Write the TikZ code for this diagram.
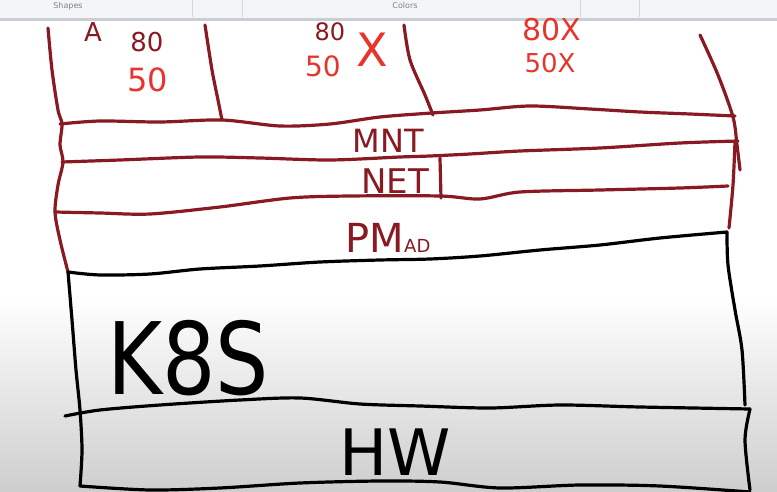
\documentclass[tikz,border=0pt]{standalone}
\usepackage{fontspec}
\setmainfont{DejaVu Sans}
\definecolor{ink}{HTML}{8A1A22}
\definecolor{redink}{HTML}{E8352C}
\definecolor{barbg}{HTML}{F4F5F7}
\definecolor{barline}{HTML}{C9CDD4}
\definecolor{bottomgray}{HTML}{CECECE}
\tikzset{
  redline/.style={draw=ink, line width=3.2pt, line cap=round, line join=round},
  blackline/.style={draw=black, line width=3.2pt, line cap=round, line join=round},
  lbl/.style={inner sep=0pt, anchor=center},
}
\begin{document}
\begin{tikzpicture}[x=1pt,y=-1pt]
\useasboundingbox (0,0) rectangle (777,492);
\clip (0,0) rectangle (777,492);
% background
\fill[white] (0,0) rectangle (777,492);
\shade[top color=white, bottom color=bottomgray] (0,295) rectangle (777,492);
% toolbar
\fill[barbg] (0,0) rectangle (777,19);
\draw[barline, line width=3pt] (0,20) -- (777,20);
\foreach \sx in {192,242,580,639} \draw[barline!80, line width=0.8pt] (\sx,0) -- (\sx,17);
\node[lbl, text=gray, font=\fontsize{8}{8}\selectfont] (shapes) at (68,6) {Shapes};
\node[lbl, text=gray, font=\fontsize{8}{8}\selectfont] (colors) at (405,6) {Colors};
% red structure
\draw[redline] plot[smooth] coordinates {(48,28) (52,70) (58,110) (62,124) (60,145) (63,162) (58,185) (55,212) (60,240) (68,272)};
\draw[redline] plot[smooth] coordinates {(205,25) (212,70) (218,100) (222,120)};
\draw[redline] plot[smooth] coordinates {(404,25) (410,60) (425,95) (433,115)};
\draw[redline] plot[smooth] coordinates {(700,35) (718,75) (733,117) (737,145) (740,170)};
\draw[redline] plot[smooth] coordinates {(735,142) (733,185) (729,228)};
\draw[redline] plot[smooth] coordinates {(60,124) (100,121) (160,122) (222,120) (280,126) (330,124) (380,117) (432,113) (480,110) (530,106) (590,109) (640,112) (690,114) (735,116)};
\draw[redline] plot[smooth] coordinates {(62,162) (120,160) (200,157) (260,158) (330,160) (400,157) (430,156) (470,154) (520,151) (600,148) (680,143) (738,141)};
\draw[redline] plot[smooth] coordinates {(55,212) (100,213) (150,214) (220,207) (290,198) (350,196) (440,196) (480,199) (520,192) (600,190) (680,188) (728,186)};
\draw[redline] (440,158) -- (441,198);
% black structure
\draw[blackline] plot[smooth] coordinates {(68,272) (100,275) (150,274) (200,269) (260,266) (320,262) (380,260) (430,259) (480,256) (540,250) (600,245) (660,238) (727,232)};
\draw[blackline] plot[smooth] coordinates {(727,232) (728,265) (735,310) (742,350) (745,405)};
\draw[blackline] plot[smooth] coordinates {(68,272) (72,320) (76,370) (80,410) (82,450) (80,486)};
\draw[blackline] plot[smooth] coordinates {(65,416) (100,410) (160,405) (240,400) (300,398) (360,404) (420,406) (490,408) (560,405) (640,407) (750,409)};
\draw[blackline] plot[smooth] coordinates {(750,409) (745,440) (750,490)};
\draw[blackline] plot[smooth] coordinates {(80,486) (150,490) (220,488) (300,483) (380,481) (440,482) (500,488) (580,485) (660,486) (750,492)};
% layer labels
\node[lbl, text=ink, font=\fontsize{32}{32}\selectfont] (mnt) at (388,141) {MNT};
\node[lbl, text=ink, font=\fontsize{34}{34}\selectfont] (net) at (395,181) {NET};
\node[lbl, text=ink, font=\fontsize{40}{40}\selectfont] (pma) at (388,238) {PM{\fontsize{18}{18}\selectfont AD}};
\node[lbl, text=black, font=\fontsize{100}{100}\selectfont, xscale=0.84] (k8s) at (188,358) {K8S};
\node[lbl, text=black, font=\fontsize{64}{64}\selectfont] (hw) at (395,452) {HW};
% top labels
\node[lbl, text=ink, font=\fontsize{26}{26}\selectfont] (a) at (93,32) {A};
\node[lbl, text=ink, font=\fontsize{26}{26}\selectfont] (c1a) at (147,42) {80};
\node[lbl, text=redink, font=\fontsize{32}{32}\selectfont] (c1b) at (148,80) {50};
\node[lbl, text=ink, font=\fontsize{24}{24}\selectfont] (c2a) at (330,32) {80};
\node[lbl, text=redink, font=\fontsize{28}{28}\selectfont] (c2b) at (323,66) {50};
\node[lbl, text=redink, font=\fontsize{46}{46}\selectfont] (c2x) at (372,50) {X};
\node[lbl, text=redink, font=\fontsize{30}{30}\selectfont] (c3a) at (552,30) {80X};
\node[lbl, text=redink, font=\fontsize{26}{26}\selectfont] (c3b) at (550,63) {50X};
\end{tikzpicture}
\end{document}
